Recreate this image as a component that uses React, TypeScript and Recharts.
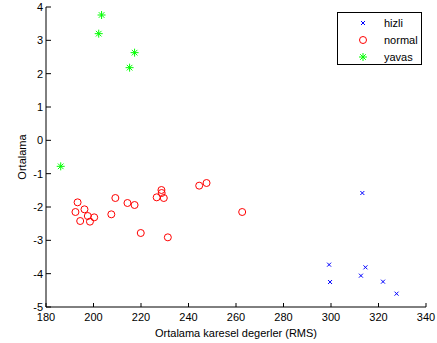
import { ScatterChart, Scatter, XAxis, YAxis, Legend } from 'recharts'

// değerler
const hizliX = [313.2, 299.2, 299.6, 314.5, 312.6, 321.9, 327.6]
const hizliY = [-1.58, -3.73, -4.25, -3.81, -4.06, -4.24, -4.6]

const normalX = [193.3, 192.4, 194.4, 196.2, 197.6, 198.5, 200.3, 207.5, 209.2, 214.3,
  217.3, 219.9, 226.6, 228.6, 228.7, 229.6, 231.3, 244.5, 247.6, 262.6]
const normalY = [-1.86, -2.15, -2.42, -2.07, -2.27, -2.44, -2.31, -2.22, -1.73, -1.88,
  -1.94, -2.78, -1.71, -1.49, -1.58, -1.73, -2.91, -1.36, -1.28, -2.15]

const yavasX = [203.4, 202.2, 217.3, 215.2, 186.2]
const yavasY = [3.76, 3.2, 2.63, 2.18, -0.78]

const xTicks = [180, 200, 220, 240, 260, 280, 300, 320, 340]
const yTicks = [-5, -4, -3, -2, -1, 0, 1, 2, 3, 4]

const seriler = ['hizli', 'normal', 'yavas']

const toPts = (xs: number[], ys: number[]) => xs.map((x, i) => ({ x, y: ys[i] }))

const FONT = "'Liberation Sans', Arial, Helvetica, sans-serif"

const Carpi = ({ cx, cy }: any) => (
  <path d={`M${cx - 2},${cy - 2}L${cx + 2},${cy + 2}M${cx - 2},${cy + 2}L${cx + 2},${cy - 2}`}
    stroke="#0000ff" strokeWidth={1} fill="none" />
)
const Daire = ({ cx, cy }: any) => (
  <circle cx={cx} cy={cy} r={3.5} stroke="#ff0000" strokeWidth={1} fill="none" />
)
const Yildiz = ({ cx, cy }: any) => (
  <path d={`M${cx - 4},${cy}L${cx + 4},${cy}M${cx},${cy - 4}L${cx},${cy + 4}M${cx - 2.8},${cy - 2.8}L${cx + 2.8},${cy + 2.8}M${cx - 2.8},${cy + 2.8}L${cx + 2.8},${cy - 2.8}`}
    stroke="#00ff00" strokeWidth={1} fill="none" />
)
const semboller = [Carpi, Daire, Yildiz]

// MATLAB tarzı kutulu lejant
const Lejant = () => (
  <div style={{ border: '1px solid #000', background: '#fff', width: 83, height: 51, fontFamily: FONT, fontSize: 11, color: '#000', boxSizing: 'content-box' }}>
    {seriler.map((s, i) => {
      const S = semboller[i]
      return (
        <div key={s} style={{ display: 'flex', alignItems: 'center', height: 16.7, marginTop: i === 0 ? 2 : 0 }}>
          <svg width={46} height={14} style={{ display: 'block' }}>
            <S cx={25} cy={7} />
          </svg>
          <span>{s}</span>
        </div>
      )
    })}
  </div>
)

export default function App() {
  const tick = { fontSize: 11, fill: '#000', fontFamily: FONT }
  return (
    <div style={{ position: 'absolute', left: 0, top: 0, width: 437, height: 343, background: '#fff' }}>
      <ScatterChart width={437} height={343} margin={{ top: 7, right: 11, bottom: 0, left: 0 }}>
        <XAxis type="number" dataKey="x" domain={[180, 340]} ticks={xTicks} height={36}
          stroke="#000" tickSize={-4} tickMargin={10} tick={tick}
          label={{ value: 'Ortalama karesel degerler (RMS)', position: 'insideBottom', offset: 6, style: { fontSize: 11, fill: '#000', fontFamily: FONT } }} />
        <YAxis type="number" dataKey="y" domain={[-5, 4]} ticks={yTicks} width={46}
          stroke="#000" tickSize={-5} tickMargin={8} tick={tick}
          label={{ value: 'Ortalama', angle: -90, position: 'insideLeft', offset: 22, style: { textAnchor: 'middle', fontSize: 11, fill: '#000', fontFamily: FONT } }} />
        <Legend content={<Lejant />} layout="horizontal" verticalAlign="middle" align="center"
          wrapperStyle={{ position: 'absolute', left: 337, top: 12, width: 85 }} />
        <Scatter name="hizli" data={toPts(hizliX, hizliY)} shape={Carpi} isAnimationActive={false} />
        <Scatter name="normal" data={toPts(normalX, normalY)} shape={Daire} isAnimationActive={false} />
        <Scatter name="yavas" data={toPts(yavasX, yavasY)} shape={Yildiz} isAnimationActive={false} />
      </ScatterChart>
    </div>
  )
}
